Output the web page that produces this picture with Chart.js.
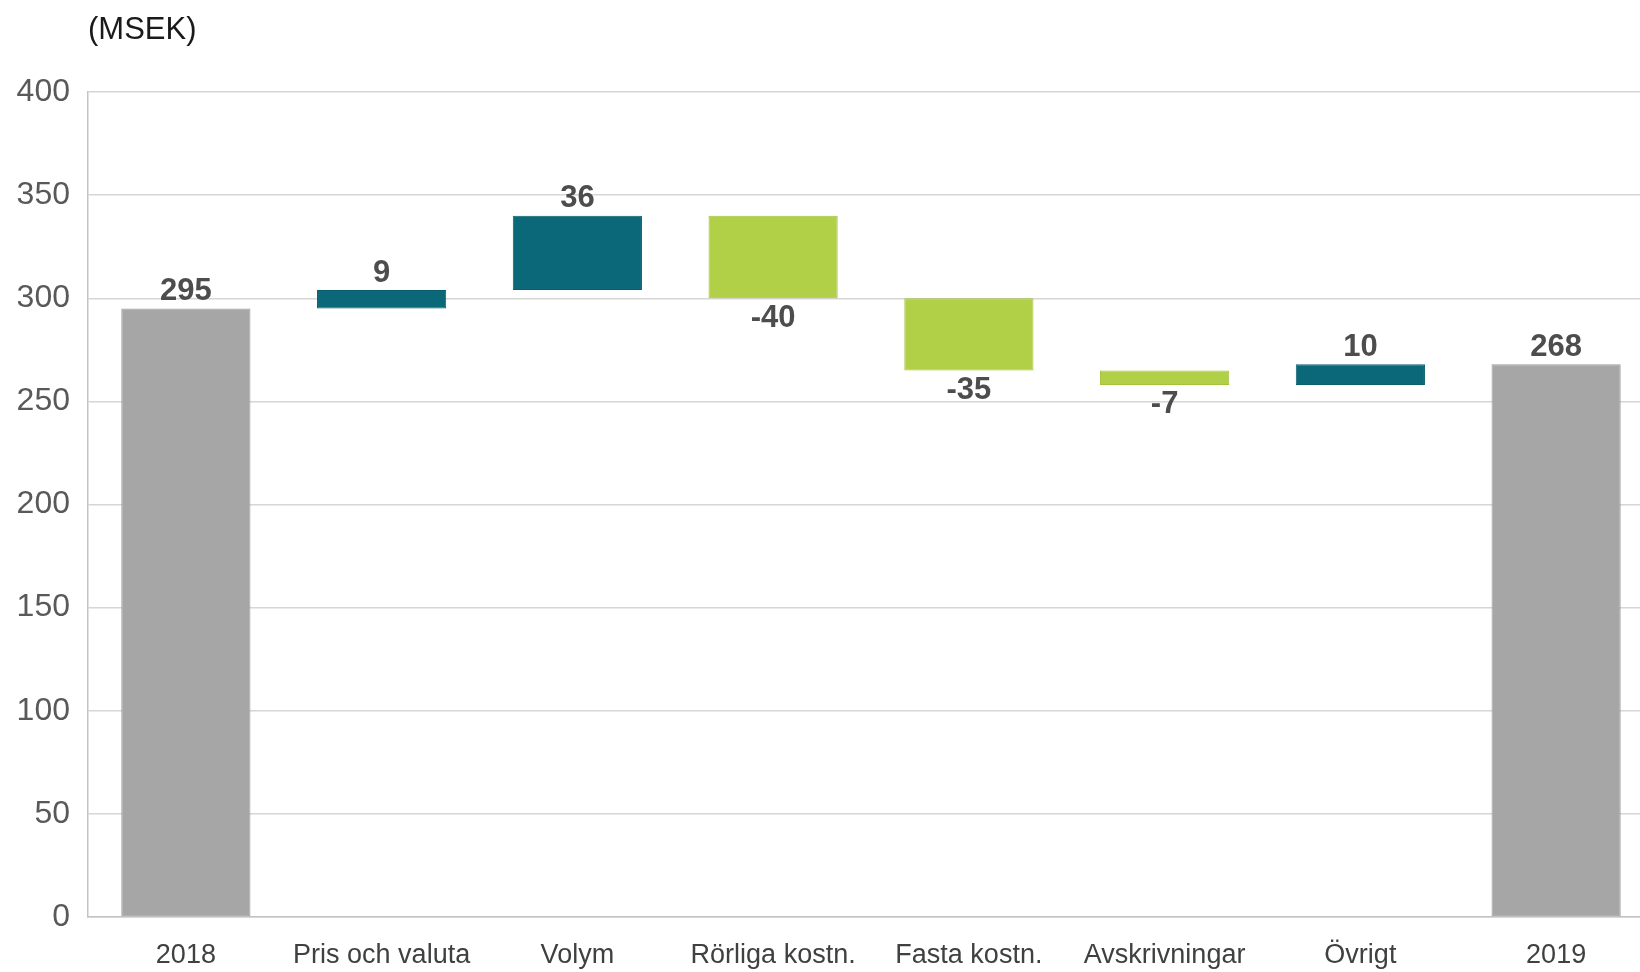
<!DOCTYPE html>
<html>
<head>
<meta charset="utf-8">
<script src="https://cdn.jsdelivr.net/npm/chart.js@4"></script>
<style>
  html, body { margin: 0; padding: 0; background: #fff; overflow: hidden; }
  #wrap { position: relative; width: 1654px; height: 972px; }
</style>
</head>
<body>
<div id="wrap"><canvas id="bridgeChart"></canvas></div>
<script>
// EBIT bridge 2018 -> 2019 (MSEK)
const categories = ['2018', 'Pris och valuta', 'Volym', 'Rörliga kostn.', 'Fasta kostn.', 'Avskrivningar', 'Övrigt', '2019'];
const changes = [295, 9, 36, -40, -35, -7, 10, 268];
const isTotal = [true, false, false, false, false, false, false, true];
const yTicks = [0, 50, 100, 150, 200, 250, 300, 350, 400];
const unitLabel = '(MSEK)';

const COLOR_TOTAL = '#a6a6a6';
const COLOR_UP = '#0b6879';
const COLOR_DOWN = '#b1cf47';

// floating bar ranges
let running = 0;
const ranges = changes.map((v, i) => {
  if (isTotal[i]) { running = v; return [0, v]; }
  const start = running;
  running += v;
  return [start, running];
});
const colors = changes.map((v, i) => isTotal[i] ? COLOR_TOTAL : (v >= 0 ? COLOR_UP : COLOR_DOWN));
const borders = changes.map((v, i) => isTotal[i] ? '#9a9a9a' : (v >= 0 ? '#0a5e6d' : '#a5c23f'));

const valueLabels = {
  id: 'valueLabels',
  afterDatasetsDraw(chart) {
    const ctx = chart.ctx;
    const meta = chart.getDatasetMeta(0);
    ctx.save();
    ctx.font = 'bold 31px "Liberation Sans", Arial, sans-serif';
    ctx.fillStyle = '#4d4d4d';
    ctx.textAlign = 'center';
    ctx.textBaseline = 'middle';
    meta.data.forEach((bar, i) => {
      const v = changes[i];
      const top = Math.min(bar.y, bar.base);
      const bottom = Math.max(bar.y, bar.base);
      if (isTotal[i] || v >= 0) {
        ctx.fillText(String(v), bar.x, top - 17);
      } else {
        ctx.fillText(String(v), bar.x, bottom + 20);
      }
    });
    ctx.restore();
  }
};

const unitTitle = {
  id: 'unitTitle',
  afterDraw(chart) {
    const ctx = chart.ctx;
    ctx.save();
    ctx.font = '31px "Liberation Sans", Arial, sans-serif';
    ctx.fillStyle = '#1a1a1a';
    ctx.textAlign = 'left';
    ctx.textBaseline = 'middle';
    ctx.fillText(unitLabel, chart.chartArea.left, 30);
    ctx.restore();
  }
};

const ctx = document.getElementById('bridgeChart').getContext('2d');
new Chart(ctx, {
  type: 'bar',
  data: {
    labels: categories,
    datasets: [{
      data: ranges,
      backgroundColor: colors,
      borderColor: borders,
      borderWidth: 1,
      borderSkipped: false,
      categoryPercentage: 1,
      barPercentage: 0.66
    }]
  },
  options: {
    responsive: true,
    maintainAspectRatio: false,
    animation: false,
    layout: { padding: { top: 92, left: 0, right: 0, bottom: 0 } },
    plugins: {
      legend: { display: false },
      tooltip: { enabled: false }
    },
    scales: {
      x: {
        grid: { display: false, drawTicks: false },
        border: { color: '#c4c4c4', width: 1.5 },
        ticks: {
          color: '#404040',
          padding: 22,
          maxRotation: 0,
          autoSkip: false,
          font: { family: '"Liberation Sans", Arial, sans-serif', size: 27 }
        },
        afterFit(scale) { scale.height = 55; }
      },
      y: {
        min: 0,
        max: 400,
        afterBuildTicks(scale) { scale.ticks = yTicks.map(v => ({ value: v })); },
        grid: { color: '#d6d6d6', lineWidth: 1.5, drawTicks: false },
        border: { color: '#c4c4c4', width: 1.5 },
        ticks: {
          color: '#595959',
          padding: 18,
          font: { family: '"Liberation Sans", Arial, sans-serif', size: 32 }
        },
        afterFit(scale) { scale.width = 88; }
      }
    }
  },
  plugins: [valueLabels, unitTitle]
});
</script>
</body>
</html>
